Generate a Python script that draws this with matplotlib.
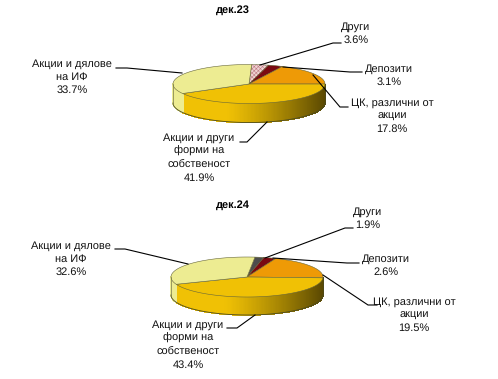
"""
Два псевдо-3D кръгови графики: структура на активите, дек.23 и дек.24
"""
import matplotlib
matplotlib.use('Agg')
import matplotlib.pyplot as plt
from matplotlib.patches import Polygon
from matplotlib.colors import to_rgb
import numpy as np

plt.rcParams['font.family'] = ['Liberation Sans', 'DejaVu Sans']
plt.rcParams['hatch.linewidth'] = 0.4
plt.rcParams['text.hinting'] = 'no_hinting'
plt.rcParams['text.hinting_factor'] = 1

# данни
categories = ['Други', 'Депозити', 'ЦК, различни от\nакции',
              'Акции и други\nформи на\nсобственост', 'Акции и дялове\nна ИФ']
values_23 = [3.6, 3.1, 17.8, 41.9, 33.7]
values_24 = [1.9, 2.6, 19.5, 43.4, 32.6]

colors_23 = ['#EFD3D3', '#7A0A12', '#EE9A06', '#F0C105', '#EDEC92']
colors_24 = ['#4D4D4D', '#7A0A12', '#EE9A06', '#F0C105', '#EDEC92']

# позиции на надписите (център, горен ред) и водещите линии, в пиксели
label_pos_23 = [(356, 27), (389, 69), (392, 103), (199, 138), (72, 64)]
label_pos_24 = [(368, 212), (386, 259), (414, 302), (188, 325), (71, 246)]
leaders_23 = [[(341, 43), (333, 43), (260, 65)],
              [(362, 72), (350, 72), (283, 67)],
              [(348, 107), (340, 107), (313, 75)],
              [(240, 142), (247, 142), (267, 122)],
              [(116, 68), (127, 68), (182, 73)]]
leaders_24 = [[(353, 228), (345, 228), (265, 258)],
              [(359, 263), (347, 263), (273, 258)],
              [(377, 305), (368, 305), (323, 275)],
              [(227, 328), (237, 328), (255, 315)],
              [(115, 249), (125, 249), (188, 264)]]

FONT = 8.1
LINE_STEP = 13.2


def shade(color, x):
    """тъмнее към десния край, x от 0 до 1"""
    rgb = np.array(to_rgb(color))
    k = 1.0 if x < 0.35 else 1.0 - 0.62 * ((x - 0.35) / 0.65) ** 1.2
    return tuple(rgb * k)


def draw_pie(ax, cx, cy, rx, ry, depth, values, start, colors, hatch_first=False):
    fractions = np.array(values) / sum(values)
    angles = start - np.concatenate([[0], np.cumsum(fractions)]) * 360

    # страничната стена, на тънки ивици
    for i, color in enumerate(colors):
        hi, lo = angles[i], angles[i + 1]
        steps = np.arange(lo, hi, 1.0)
        for a in steps:
            b = min(a + 1.0, hi)
            s = (np.sin(np.radians(a)) + np.sin(np.radians(b))) / 2
            # само предната половина (екранът е с y надолу)
            if s > 0:
                continue
            xs = cx + rx * np.cos(np.radians([a, b]))
            ys = cy - ry * np.sin(np.radians([a, b]))
            pts = [(xs[0], ys[0]), (xs[1], ys[1]),
                   (xs[1], ys[1] + depth), (xs[0], ys[0] + depth)]
            side = shade(color, (xs[0] - (cx - rx)) / (2 * rx))
            ax.add_patch(Polygon(pts, closed=True, facecolor=side, edgecolor=side,
                                 lw=0.5, antialiased=False))

    # долен контур на стената
    t = np.radians(np.linspace(180, 360, 120))
    ax.plot(cx + rx * np.cos(t), cy - ry * np.sin(t) + depth, color='#4A4A20', lw=0.6)
    ax.plot([cx - rx, cx - rx], [cy, cy + depth], color='#77774A', lw=0.5)
    ax.plot([cx + rx, cx + rx], [cy, cy + depth], color='#4A4A20', lw=0.5)

    # горната повърхност
    for i, color in enumerate(colors):
        t = np.radians(np.linspace(angles[i], angles[i + 1], 80))
        pts = [(cx, cy)] + list(zip(cx + rx * np.cos(t), cy - ry * np.sin(t)))
        if hatch_first and i == 0:
            ax.add_patch(Polygon(pts, closed=True, facecolor=color, edgecolor='#C07C86',
                                 hatch='xxxxxxxx', lw=0))
            ax.add_patch(Polygon(pts, closed=True, fill=False, edgecolor='#66663A', lw=0.4))
        else:
            ax.add_patch(Polygon(pts, closed=True, facecolor=color, edgecolor='#66663A', lw=0.4))


def draw_labels(ax, values, positions, leaders):
    for cat, val, (x, y), line in zip(categories, values, positions, leaders):
        for j, txt in enumerate(cat.split('\n') + [f'{val:.1f}%']):
            ax.text(x, y + j * LINE_STEP, txt, ha='center', va='center',
                    fontsize=FONT, color='#111111')
        ax.plot(*zip(*line), color='black', lw=0.8, solid_joinstyle='miter')


fig = plt.figure(figsize=(4.98, 3.79), dpi=100, facecolor='white')
ax = fig.add_axes([0, 0, 1, 1])
ax.set_xlim(0, 498)
ax.set_ylim(379, 0)
ax.axis('off')

draw_pie(ax, 249, 84, 76, 19.5, 19, values_23, 88, colors_23, hatch_first=True)
draw_pie(ax, 247, 277, 76, 20, 18, values_24, 84, colors_24)
draw_labels(ax, values_23, label_pos_23, leaders_23)
draw_labels(ax, values_24, label_pos_24, leaders_24)

ax.text(233, 10, 'дек.23', ha='center', va='center', fontsize=FONT, fontweight='bold')
ax.text(233, 205, 'дек.24', ha='center', va='center', fontsize=FONT, fontweight='bold')

fig.savefig('out.png', dpi=100, facecolor='white')
